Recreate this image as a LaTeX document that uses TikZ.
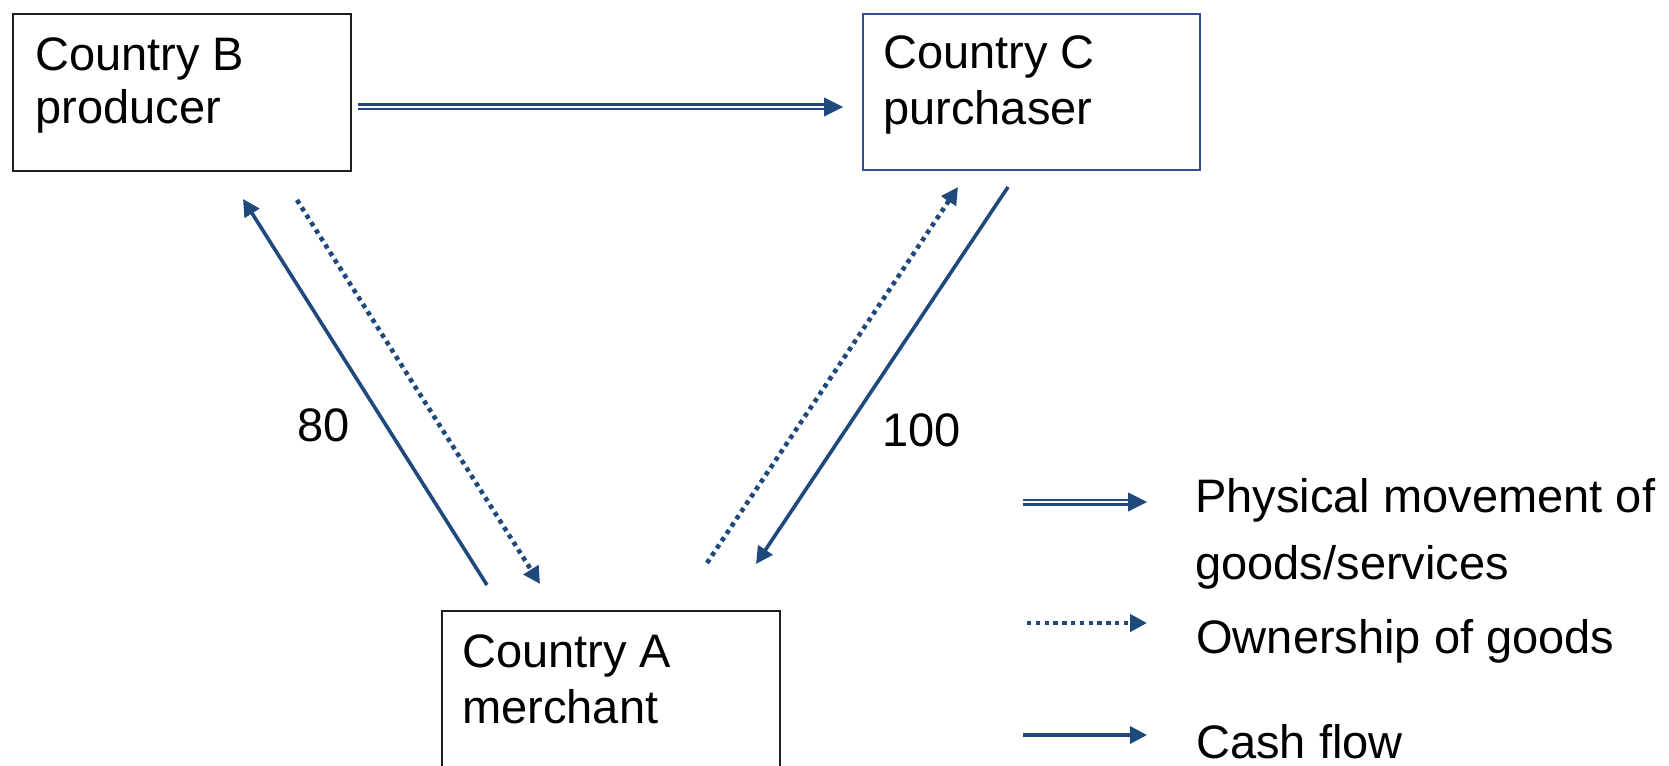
\documentclass[tikz,border=0pt]{standalone}
\usepackage{fontspec}
\setmainfont{Liberation Sans}
\usetikzlibrary{arrows.meta,decorations.markings}
\definecolor{flowblue}{RGB}{31,73,125}
\definecolor{boxblue}{RGB}{47,82,143}
\definecolor{boxblack}{RGB}{30,30,30}
\begin{document}
\begin{tikzpicture}[x=0.5pt,y=-0.5pt,
  txt/.style={inner sep=0pt, anchor=base west, font=\fontsize{23.5}{27}\selectfont, text=black},
  boxk/.style={draw=boxblack, line width=1pt, fill=none, inner sep=0pt, anchor=north west, minimum width=169pt},
  boxc/.style={draw=boxblue, line width=0.8pt, fill=none, inner sep=0pt, anchor=north west, minimum width=168.5pt},
  tipstyle/.style={-{Triangle[length=8.5pt,width=8.5pt]}},
  cash/.style={draw=flowblue, line width=1.8pt, tipstyle},
  own/.style={draw=flowblue, line width=2.3pt, dash pattern=on 2.2pt off 2.2pt, tipstyle},
  phys/.style={draw=none,
    postaction={draw=flowblue, double=white, double distance=0.9pt, line width=1.3pt, shorten >=7pt},
    postaction={decorate, decoration={markings, mark=at position 1 with {\arrow[flowblue]{Triangle[length=9.5pt,width=9.5pt]}}}}},
]
\useasboundingbox (0,0) rectangle (1669,765);
\clip (0,0) rectangle (1669,765);

% boxes
\node[boxk, minimum height=78.5pt] (B) at (12,13) {};
\node[boxc, minimum height=78pt] (C) at (862,13) {};
\node[boxk, minimum height=130pt] (A) at (441,610) {};

% box texts
\node[txt] (Btext) at (35,71) {\parbox[t]{150pt}{\fontsize{23.5}{26.5}\selectfont Country B\\producer}};
\node[txt] (Ctext) at (883,69) {\parbox[t]{150pt}{\fontsize{23.5}{27.6}\selectfont Country C\\purchaser}};
\node[txt] (Atext) at (462,667) {\parbox[t]{150pt}{\fontsize{23.5}{28}\selectfont Country A\\merchant}};

% connector end points
\coordinate (p1) at (358,107);
\coordinate (p2) at (843,107);
\coordinate (l1) at (487,585);
\coordinate (l2) at (243,199);
\coordinate (d1) at (297,200);
\coordinate (d2) at (540,584);
\coordinate (r1) at (707,563);
\coordinate (r2) at (958,187);
\coordinate (s1) at (1008,187);
\coordinate (s2) at (756,564);

\path[phys] (p1) -- (p2);
\draw[cash] (l1) -- (l2);
\draw[own] (d1) -- (d2);
\draw[own] (r1) -- (r2);
\draw[cash] (s1) -- (s2);

\node[txt] (n80) at (297,441) {80};
\node[txt] (n100) at (882,446) {100};

% legend
\coordinate (g1a) at (1023,502);
\coordinate (g1b) at (1147,502);
\coordinate (g2a) at (1027,623);
\coordinate (g2b) at (1147,623);
\coordinate (g3a) at (1023,735);
\coordinate (g3b) at (1147,735);
\path[phys] (g1a) -- (g1b);
\draw[own] (g2a) -- (g2b);
\draw[cash] (g3a) -- (g3b);

\node[txt] (lg1) at (1195,512) {\parbox[t]{300pt}{\fontsize{23.5}{33.5}\selectfont Physical movement of\\goods/services}};
\node[txt] (lg2) at (1196,653) {Ownership of goods};
\node[txt] (lg3) at (1196,758) {Cash flow};
\end{tikzpicture}
\end{document}
